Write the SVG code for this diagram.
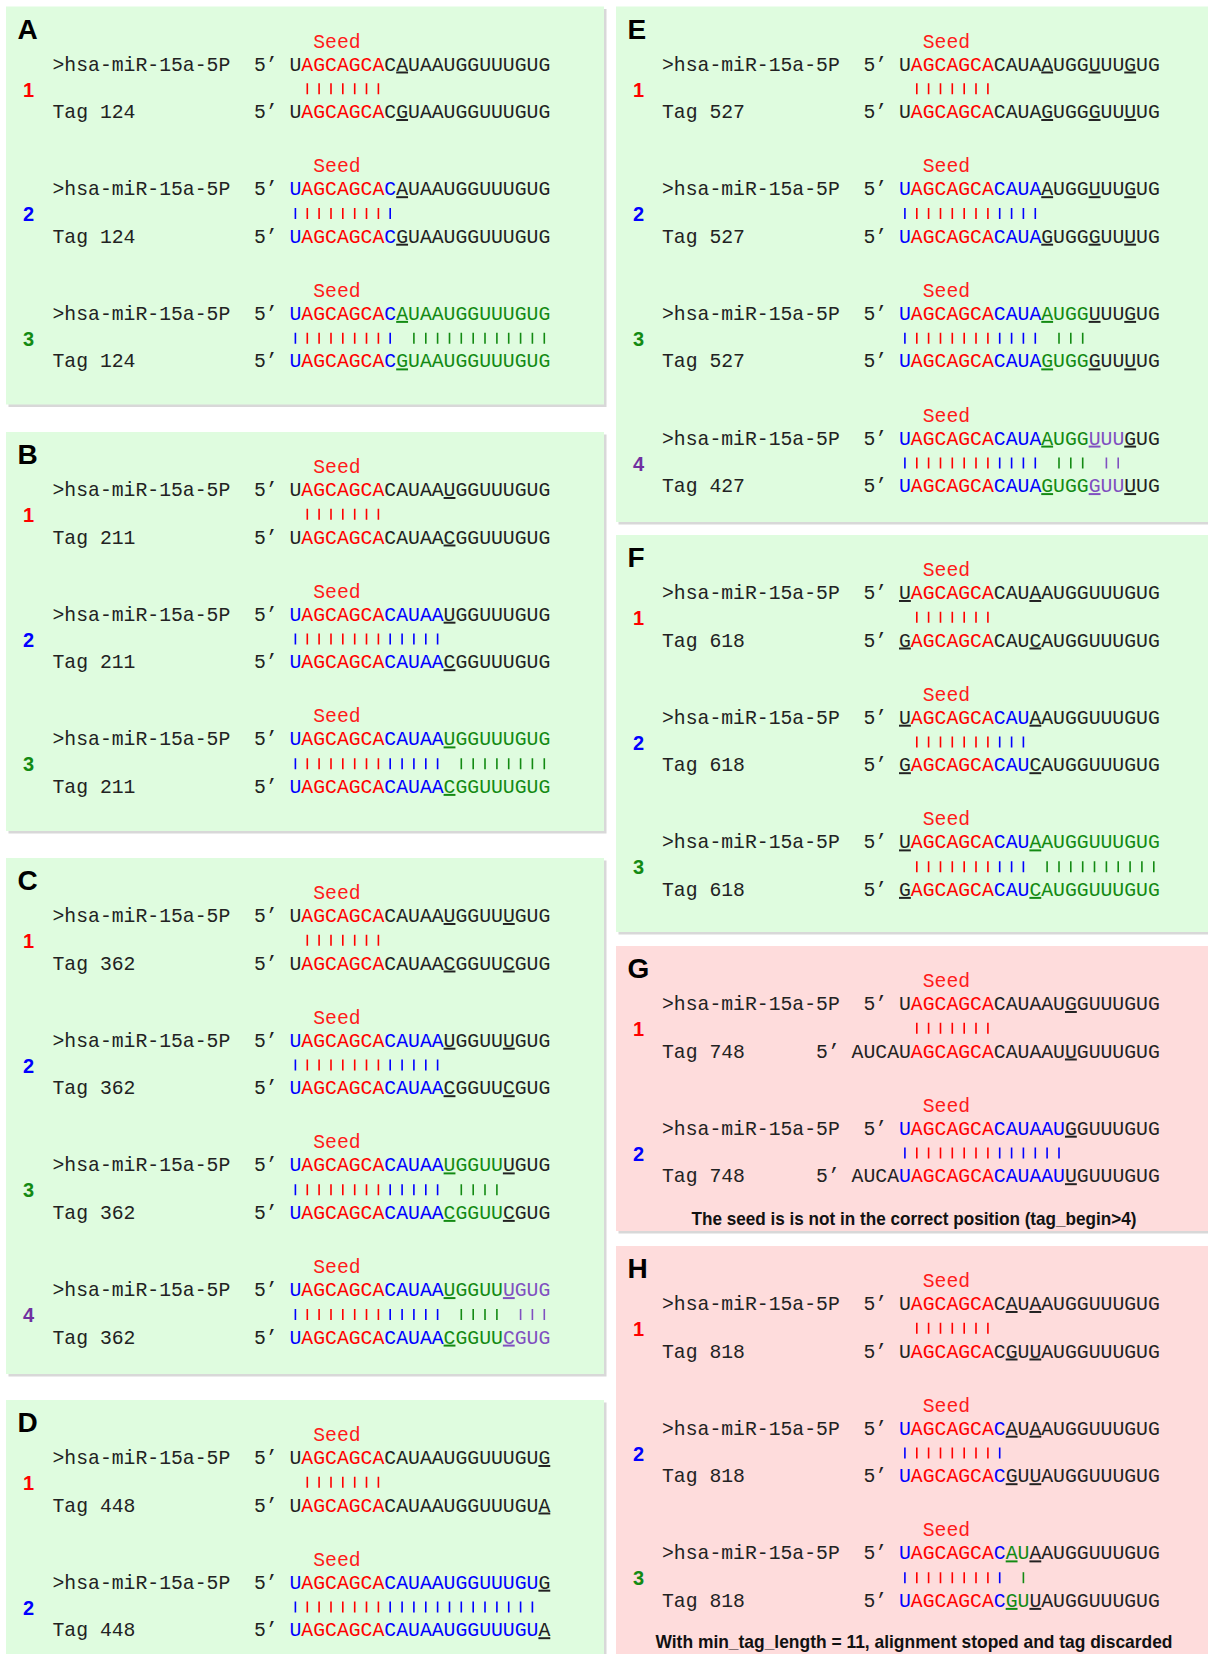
<svg xmlns="http://www.w3.org/2000/svg" xmlns:xlink="http://www.w3.org/1999/xlink" width="1208" height="1654" viewBox="0 0 1208 1654">
<style>
.pg{fill:#dffcdf}.pr{fill:#fedcdc}.sh{fill:#d8d8d8}
.m{font-family:"Liberation Mono","DejaVu Sans Mono",monospace;font-size:19.75px;fill:#222}
.L{font-family:"Liberation Sans",Arial,sans-serif;font-weight:bold;font-size:28px;fill:#000}
.n{font-family:"Liberation Sans",Arial,sans-serif;font-weight:bold;font-size:20px}
.ft{font-family:"Liberation Sans",Arial,sans-serif;font-weight:bold;font-size:18.5px;fill:#111}
.r{fill:#ff0000}.b{fill:#0000ff}.g{fill:#138a13}.p{fill:#8050c0}.p4{fill:#7030a0}
.u{text-decoration:underline}
.sd{fill:#ff1a1a}
.bars{stroke-width:1.6;fill:none}
.br{stroke:#ff0000}.bb{stroke:#0000ff}.bg{stroke:#138a13}.bp{stroke:#8050c0}
</style>
<defs>
<path id="sd" d="M17.8 12.8v11M29.6 12.8v11M41.5 12.8v11M53.3 12.8v11M65.2 12.8v11M77 12.8v11M88.9 12.8v11"/>
<path id="b08" d="M5.9 12.8v11M100.7 12.8v11"/>
<path id="b0812" d="M5.9 12.8v11M100.7 12.8v11M112.6 12.8v11M124.4 12.8v11M136.3 12.8v11M148.1 12.8v11"/>
<path id="b0811" d="M5.9 12.8v11M100.7 12.8v11M112.6 12.8v11M124.4 12.8v11M136.3 12.8v11"/>
<path id="g1417" d="M171.8 12.8v11M183.7 12.8v11M195.5 12.8v11M207.4 12.8v11"/>
<path id="g1315" d="M160 12.8v11M171.8 12.8v11M183.7 12.8v11"/>
</defs>

<g id="panel-A">
<rect class="sh" x="8.5" y="9" width="598" height="398"/>
<rect class="pg" x="6" y="6.5" width="598" height="398"/>
<text class="L" x="17.5" y="38.5">A</text>
<g id="A1" transform="translate(289.5,70.5)">
<text class="n r" x="-266.5" y="26">1</text>
<text class="m sd" x="23.7" y="-23">Seed</text>
<text class="m" x="-237" y="0">&gt;hsa-miR-15a-5P</text><text class="m" x="-35.55" y="0">5’</text>
<text class="m" x="0" y="0">U<tspan class="r">AGCAGCA</tspan>C<tspan class="u">A</tspan>UAAUGGUUUGUG</text>
<use href="#sd" class="bars br"/>
<text class="m" x="-237" y="47.5">Tag 124</text><text class="m" x="-35.55" y="47.5">5’</text>
<text class="m" x="0" y="47.5">U<tspan class="r">AGCAGCA</tspan>C<tspan class="u">G</tspan>UAAUGGUUUGUG</text>
</g>
<g id="A2" transform="translate(289.5,195.2)">
<text class="n b" x="-266.5" y="26">2</text>
<text class="m sd" x="23.7" y="-23">Seed</text>
<text class="m" x="-237" y="0">&gt;hsa-miR-15a-5P</text><text class="m" x="-35.55" y="0">5’</text>
<text class="m" x="0" y="0"><tspan class="b">U</tspan><tspan class="r">AGCAGCA</tspan><tspan class="b">C</tspan><tspan class="u">A</tspan>UAAUGGUUUGUG</text>
<use href="#sd" class="bars br"/><use href="#b08" class="bars bb"/>
<text class="m" x="-237" y="47.5">Tag 124</text><text class="m" x="-35.55" y="47.5">5’</text>
<text class="m" x="0" y="47.5"><tspan class="b">U</tspan><tspan class="r">AGCAGCA</tspan><tspan class="b">C</tspan><tspan class="u">G</tspan>UAAUGGUUUGUG</text>
</g>
<g id="A3" transform="translate(289.5,319.9)">
<text class="n g" x="-266.5" y="26">3</text>
<text class="m sd" x="23.7" y="-23">Seed</text>
<text class="m" x="-237" y="0">&gt;hsa-miR-15a-5P</text><text class="m" x="-35.55" y="0">5’</text>
<text class="m" x="0" y="0"><tspan class="b">U</tspan><tspan class="r">AGCAGCA</tspan><tspan class="b">C</tspan><tspan class="g u">A</tspan><tspan class="g">UAAUGGUUUGUG</tspan></text>
<use href="#sd" class="bars br"/><use href="#b08" class="bars bb"/>
<path class="bars bg" d="M124.4 12.8v11M136.3 12.8v11M148.1 12.8v11M160 12.8v11M171.8 12.8v11M183.7 12.8v11M195.5 12.8v11M207.4 12.8v11M219.2 12.8v11M231.1 12.8v11M242.9 12.8v11M254.8 12.8v11"/>
<text class="m" x="-237" y="47.5">Tag 124</text><text class="m" x="-35.55" y="47.5">5’</text>
<text class="m" x="0" y="47.5"><tspan class="b">U</tspan><tspan class="r">AGCAGCA</tspan><tspan class="b">C</tspan><tspan class="g u">G</tspan><tspan class="g">UAAUGGUUUGUG</tspan></text>
</g>
</g>

<g id="panel-B">
<rect class="sh" x="8.5" y="434.5" width="598" height="399"/>
<rect class="pg" x="6" y="432" width="598" height="399"/>
<text class="L" x="17.5" y="464">B</text>
<g id="B1" transform="translate(289.5,496)">
<text class="n r" x="-266.5" y="26">1</text>
<text class="m sd" x="23.7" y="-23">Seed</text>
<text class="m" x="-237" y="0">&gt;hsa-miR-15a-5P</text><text class="m" x="-35.55" y="0">5’</text>
<text class="m" x="0" y="0">U<tspan class="r">AGCAGCA</tspan>CAUAA<tspan class="u">U</tspan>GGUUUGUG</text>
<use href="#sd" class="bars br"/>
<text class="m" x="-237" y="47.5">Tag 211</text><text class="m" x="-35.55" y="47.5">5’</text>
<text class="m" x="0" y="47.5">U<tspan class="r">AGCAGCA</tspan>CAUAA<tspan class="u">C</tspan>GGUUUGUG</text>
</g>
<g id="B2" transform="translate(289.5,620.7)">
<text class="n b" x="-266.5" y="26">2</text>
<text class="m sd" x="23.7" y="-23">Seed</text>
<text class="m" x="-237" y="0">&gt;hsa-miR-15a-5P</text><text class="m" x="-35.55" y="0">5’</text>
<text class="m" x="0" y="0"><tspan class="b">U</tspan><tspan class="r">AGCAGCA</tspan><tspan class="b">CAUAA</tspan><tspan class="u">U</tspan>GGUUUGUG</text>
<use href="#sd" class="bars br"/><use href="#b0812" class="bars bb"/>
<text class="m" x="-237" y="47.5">Tag 211</text><text class="m" x="-35.55" y="47.5">5’</text>
<text class="m" x="0" y="47.5"><tspan class="b">U</tspan><tspan class="r">AGCAGCA</tspan><tspan class="b">CAUAA</tspan><tspan class="u">C</tspan>GGUUUGUG</text>
</g>
<g id="B3" transform="translate(289.5,745.4)">
<text class="n g" x="-266.5" y="26">3</text>
<text class="m sd" x="23.7" y="-23">Seed</text>
<text class="m" x="-237" y="0">&gt;hsa-miR-15a-5P</text><text class="m" x="-35.55" y="0">5’</text>
<text class="m" x="0" y="0"><tspan class="b">U</tspan><tspan class="r">AGCAGCA</tspan><tspan class="b">CAUAA</tspan><tspan class="g u">U</tspan><tspan class="g">GGUUUGUG</tspan></text>
<use href="#sd" class="bars br"/><use href="#b0812" class="bars bb"/>
<path class="bars bg" d="M171.8 12.8v11M183.7 12.8v11M195.5 12.8v11M207.4 12.8v11M219.2 12.8v11M231.1 12.8v11M242.9 12.8v11M254.8 12.8v11"/>
<text class="m" x="-237" y="47.5">Tag 211</text><text class="m" x="-35.55" y="47.5">5’</text>
<text class="m" x="0" y="47.5"><tspan class="b">U</tspan><tspan class="r">AGCAGCA</tspan><tspan class="b">CAUAA</tspan><tspan class="g u">C</tspan><tspan class="g">GGUUUGUG</tspan></text>
</g>
</g>

<g id="panel-C">
<rect class="sh" x="8.5" y="860.5" width="598" height="516"/>
<rect class="pg" x="6" y="858" width="598" height="516"/>
<text class="L" x="17.5" y="890">C</text>
<g id="C1" transform="translate(289.5,922)">
<text class="n r" x="-266.5" y="26">1</text>
<text class="m sd" x="23.7" y="-23">Seed</text>
<text class="m" x="-237" y="0">&gt;hsa-miR-15a-5P</text><text class="m" x="-35.55" y="0">5’</text>
<text class="m" x="0" y="0">U<tspan class="r">AGCAGCA</tspan>CAUAA<tspan class="u">U</tspan>GGUU<tspan class="u">U</tspan>GUG</text>
<use href="#sd" class="bars br"/>
<text class="m" x="-237" y="47.5">Tag 362</text><text class="m" x="-35.55" y="47.5">5’</text>
<text class="m" x="0" y="47.5">U<tspan class="r">AGCAGCA</tspan>CAUAA<tspan class="u">C</tspan>GGUU<tspan class="u">C</tspan>GUG</text>
</g>
<g id="C2" transform="translate(289.5,1046.7)">
<text class="n b" x="-266.5" y="26">2</text>
<text class="m sd" x="23.7" y="-23">Seed</text>
<text class="m" x="-237" y="0">&gt;hsa-miR-15a-5P</text><text class="m" x="-35.55" y="0">5’</text>
<text class="m" x="0" y="0"><tspan class="b">U</tspan><tspan class="r">AGCAGCA</tspan><tspan class="b">CAUAA</tspan><tspan class="u">U</tspan>GGUU<tspan class="u">U</tspan>GUG</text>
<use href="#sd" class="bars br"/><use href="#b0812" class="bars bb"/>
<text class="m" x="-237" y="47.5">Tag 362</text><text class="m" x="-35.55" y="47.5">5’</text>
<text class="m" x="0" y="47.5"><tspan class="b">U</tspan><tspan class="r">AGCAGCA</tspan><tspan class="b">CAUAA</tspan><tspan class="u">C</tspan>GGUU<tspan class="u">C</tspan>GUG</text>
</g>
<g id="C3" transform="translate(289.5,1171.4)">
<text class="n g" x="-266.5" y="26">3</text>
<text class="m sd" x="23.7" y="-23">Seed</text>
<text class="m" x="-237" y="0">&gt;hsa-miR-15a-5P</text><text class="m" x="-35.55" y="0">5’</text>
<text class="m" x="0" y="0"><tspan class="b">U</tspan><tspan class="r">AGCAGCA</tspan><tspan class="b">CAUAA</tspan><tspan class="g u">U</tspan><tspan class="g">GGUU</tspan><tspan class="u">U</tspan>GUG</text>
<use href="#sd" class="bars br"/><use href="#b0812" class="bars bb"/><use href="#g1417" class="bars bg"/>
<text class="m" x="-237" y="47.5">Tag 362</text><text class="m" x="-35.55" y="47.5">5’</text>
<text class="m" x="0" y="47.5"><tspan class="b">U</tspan><tspan class="r">AGCAGCA</tspan><tspan class="b">CAUAA</tspan><tspan class="g u">C</tspan><tspan class="g">GGUU</tspan><tspan class="u">C</tspan>GUG</text>
</g>
<g id="C4" transform="translate(289.5,1296.1)">
<text class="n p4" x="-266.5" y="26">4</text>
<text class="m sd" x="23.7" y="-23">Seed</text>
<text class="m" x="-237" y="0">&gt;hsa-miR-15a-5P</text><text class="m" x="-35.55" y="0">5’</text>
<text class="m" x="0" y="0"><tspan class="b">U</tspan><tspan class="r">AGCAGCA</tspan><tspan class="b">CAUAA</tspan><tspan class="g u">U</tspan><tspan class="g">GGUU</tspan><tspan class="p u">U</tspan><tspan class="p">GUG</tspan></text>
<use href="#sd" class="bars br"/><use href="#b0812" class="bars bb"/><use href="#g1417" class="bars bg"/>
<path class="bars bp" d="M231.1 12.8v11M242.9 12.8v11M254.8 12.8v11"/>
<text class="m" x="-237" y="47.5">Tag 362</text><text class="m" x="-35.55" y="47.5">5’</text>
<text class="m" x="0" y="47.5"><tspan class="b">U</tspan><tspan class="r">AGCAGCA</tspan><tspan class="b">CAUAA</tspan><tspan class="g u">C</tspan><tspan class="g">GGUU</tspan><tspan class="p u">C</tspan><tspan class="p">GUG</tspan></text>
</g>
</g>

<g id="panel-D">
<rect class="sh" x="8.5" y="1402.5" width="598" height="260"/>
<rect class="pg" x="6" y="1400" width="598" height="260"/>
<text class="L" x="17.5" y="1432">D</text>
<g id="D1" transform="translate(289.5,1464)">
<text class="n r" x="-266.5" y="26">1</text>
<text class="m sd" x="23.7" y="-23">Seed</text>
<text class="m" x="-237" y="0">&gt;hsa-miR-15a-5P</text><text class="m" x="-35.55" y="0">5’</text>
<text class="m" x="0" y="0">U<tspan class="r">AGCAGCA</tspan>CAUAAUGGUUUGU<tspan class="u">G</tspan></text>
<use href="#sd" class="bars br"/>
<text class="m" x="-237" y="47.5">Tag 448</text><text class="m" x="-35.55" y="47.5">5’</text>
<text class="m" x="0" y="47.5">U<tspan class="r">AGCAGCA</tspan>CAUAAUGGUUUGU<tspan class="u">A</tspan></text>
</g>
<g id="D2" transform="translate(289.5,1588.7)">
<text class="n b" x="-266.5" y="26">2</text>
<text class="m sd" x="23.7" y="-23">Seed</text>
<text class="m" x="-237" y="0">&gt;hsa-miR-15a-5P</text><text class="m" x="-35.55" y="0">5’</text>
<text class="m" x="0" y="0"><tspan class="b">U</tspan><tspan class="r">AGCAGCA</tspan><tspan class="b">CAUAAUGGUUUGU</tspan><tspan class="u">G</tspan></text>
<use href="#sd" class="bars br"/>
<path class="bars bb" d="M5.9 12.8v11M100.7 12.8v11M112.6 12.8v11M124.4 12.8v11M136.3 12.8v11M148.1 12.8v11M160 12.8v11M171.8 12.8v11M183.7 12.8v11M195.5 12.8v11M207.4 12.8v11M219.2 12.8v11M231.1 12.8v11M242.9 12.8v11"/>
<text class="m" x="-237" y="47.5">Tag 448</text><text class="m" x="-35.55" y="47.5">5’</text>
<text class="m" x="0" y="47.5"><tspan class="b">U</tspan><tspan class="r">AGCAGCA</tspan><tspan class="b">CAUAAUGGUUUGU</tspan><tspan class="u">A</tspan></text>
</g>
</g>

<g id="panel-E">
<rect class="sh" x="618.5" y="9" width="594" height="515.5"/>
<rect class="pg" x="616" y="6.5" width="594" height="515.5"/>
<text class="L" x="627.5" y="38.5">E</text>
<g id="E1" transform="translate(899,70.5)">
<text class="n r" x="-266" y="26">1</text>
<text class="m sd" x="23.7" y="-23">Seed</text>
<text class="m" x="-237" y="0">&gt;hsa-miR-15a-5P</text><text class="m" x="-35.55" y="0">5’</text>
<text class="m" x="0" y="0">U<tspan class="r">AGCAGCA</tspan>CAUA<tspan class="u">A</tspan>UGG<tspan class="u">U</tspan>UU<tspan class="u">G</tspan>UG</text>
<use href="#sd" class="bars br"/>
<text class="m" x="-237" y="47.5">Tag 527</text><text class="m" x="-35.55" y="47.5">5’</text>
<text class="m" x="0" y="47.5">U<tspan class="r">AGCAGCA</tspan>CAUA<tspan class="u">G</tspan>UGG<tspan class="u">G</tspan>UU<tspan class="u">U</tspan>UG</text>
</g>
<g id="E2" transform="translate(899,195.2)">
<text class="n b" x="-266" y="26">2</text>
<text class="m sd" x="23.7" y="-23">Seed</text>
<text class="m" x="-237" y="0">&gt;hsa-miR-15a-5P</text><text class="m" x="-35.55" y="0">5’</text>
<text class="m" x="0" y="0"><tspan class="b">U</tspan><tspan class="r">AGCAGCA</tspan><tspan class="b">CAUA</tspan><tspan class="u">A</tspan>UGG<tspan class="u">U</tspan>UU<tspan class="u">G</tspan>UG</text>
<use href="#sd" class="bars br"/><use href="#b0811" class="bars bb"/>
<text class="m" x="-237" y="47.5">Tag 527</text><text class="m" x="-35.55" y="47.5">5’</text>
<text class="m" x="0" y="47.5"><tspan class="b">U</tspan><tspan class="r">AGCAGCA</tspan><tspan class="b">CAUA</tspan><tspan class="u">G</tspan>UGG<tspan class="u">G</tspan>UU<tspan class="u">U</tspan>UG</text>
</g>
<g id="E3" transform="translate(899,319.9)">
<text class="n g" x="-266" y="26">3</text>
<text class="m sd" x="23.7" y="-23">Seed</text>
<text class="m" x="-237" y="0">&gt;hsa-miR-15a-5P</text><text class="m" x="-35.55" y="0">5’</text>
<text class="m" x="0" y="0"><tspan class="b">U</tspan><tspan class="r">AGCAGCA</tspan><tspan class="b">CAUA</tspan><tspan class="g u">A</tspan><tspan class="g">UGG</tspan><tspan class="u">U</tspan>UU<tspan class="u">G</tspan>UG</text>
<use href="#sd" class="bars br"/><use href="#b0811" class="bars bb"/><use href="#g1315" class="bars bg"/>
<text class="m" x="-237" y="47.5">Tag 527</text><text class="m" x="-35.55" y="47.5">5’</text>
<text class="m" x="0" y="47.5"><tspan class="b">U</tspan><tspan class="r">AGCAGCA</tspan><tspan class="b">CAUA</tspan><tspan class="g u">G</tspan><tspan class="g">UGG</tspan><tspan class="u">G</tspan>UU<tspan class="u">U</tspan>UG</text>
</g>
<g id="E4" transform="translate(899,444.6)">
<text class="n p4" x="-266" y="26">4</text>
<text class="m sd" x="23.7" y="-23">Seed</text>
<text class="m" x="-237" y="0">&gt;hsa-miR-15a-5P</text><text class="m" x="-35.55" y="0">5’</text>
<text class="m" x="0" y="0"><tspan class="b">U</tspan><tspan class="r">AGCAGCA</tspan><tspan class="b">CAUA</tspan><tspan class="g u">A</tspan><tspan class="g">UGG</tspan><tspan class="p u">U</tspan><tspan class="p">UU</tspan><tspan class="u">G</tspan>UG</text>
<use href="#sd" class="bars br"/><use href="#b0811" class="bars bb"/><use href="#g1315" class="bars bg"/>
<path class="bars bp" d="M207.4 12.8v11M219.2 12.8v11"/>
<text class="m" x="-237" y="47.5">Tag 427</text><text class="m" x="-35.55" y="47.5">5’</text>
<text class="m" x="0" y="47.5"><tspan class="b">U</tspan><tspan class="r">AGCAGCA</tspan><tspan class="b">CAUA</tspan><tspan class="g u">G</tspan><tspan class="g">UGG</tspan><tspan class="p u">G</tspan><tspan class="p">UU</tspan><tspan class="u">U</tspan>UG</text>
</g>
</g>

<g id="panel-F">
<rect class="sh" x="618.5" y="537.5" width="594" height="397"/>
<rect class="pg" x="616" y="535" width="594" height="397"/>
<text class="L" x="627.5" y="567">F</text>
<g id="F1" transform="translate(899,599)">
<text class="n r" x="-266" y="26">1</text>
<text class="m sd" x="23.7" y="-23">Seed</text>
<text class="m" x="-237" y="0">&gt;hsa-miR-15a-5P</text><text class="m" x="-35.55" y="0">5’</text>
<text class="m" x="0" y="0"><tspan class="u">U</tspan><tspan class="r">AGCAGCA</tspan>CAU<tspan class="u">A</tspan>AUGGUUUGUG</text>
<use href="#sd" class="bars br"/>
<text class="m" x="-237" y="47.5">Tag 618</text><text class="m" x="-35.55" y="47.5">5’</text>
<text class="m" x="0" y="47.5"><tspan class="u">G</tspan><tspan class="r">AGCAGCA</tspan>CAU<tspan class="u">C</tspan>AUGGUUUGUG</text>
</g>
<g id="F2" transform="translate(899,723.7)">
<text class="n b" x="-266" y="26">2</text>
<text class="m sd" x="23.7" y="-23">Seed</text>
<text class="m" x="-237" y="0">&gt;hsa-miR-15a-5P</text><text class="m" x="-35.55" y="0">5’</text>
<text class="m" x="0" y="0"><tspan class="u">U</tspan><tspan class="r">AGCAGCA</tspan><tspan class="b">CAU</tspan><tspan class="u">A</tspan>AUGGUUUGUG</text>
<use href="#sd" class="bars br"/>
<path class="bars bb" d="M100.7 12.8v11M112.6 12.8v11M124.4 12.8v11"/>
<text class="m" x="-237" y="47.5">Tag 618</text><text class="m" x="-35.55" y="47.5">5’</text>
<text class="m" x="0" y="47.5"><tspan class="u">G</tspan><tspan class="r">AGCAGCA</tspan><tspan class="b">CAU</tspan><tspan class="u">C</tspan>AUGGUUUGUG</text>
</g>
<g id="F3" transform="translate(899,848.4)">
<text class="n g" x="-266" y="26">3</text>
<text class="m sd" x="23.7" y="-23">Seed</text>
<text class="m" x="-237" y="0">&gt;hsa-miR-15a-5P</text><text class="m" x="-35.55" y="0">5’</text>
<text class="m" x="0" y="0"><tspan class="u">U</tspan><tspan class="r">AGCAGCA</tspan><tspan class="b">CAU</tspan><tspan class="g u">A</tspan><tspan class="g">AUGGUUUGUG</tspan></text>
<use href="#sd" class="bars br"/>
<path class="bars bb" d="M100.7 12.8v11M112.6 12.8v11M124.4 12.8v11"/>
<path class="bars bg" d="M148.1 12.8v11M160 12.8v11M171.8 12.8v11M183.7 12.8v11M195.5 12.8v11M207.4 12.8v11M219.2 12.8v11M231.1 12.8v11M242.9 12.8v11M254.8 12.8v11"/>
<text class="m" x="-237" y="47.5">Tag 618</text><text class="m" x="-35.55" y="47.5">5’</text>
<text class="m" x="0" y="47.5"><tspan class="u">G</tspan><tspan class="r">AGCAGCA</tspan><tspan class="b">CAU</tspan><tspan class="g u">C</tspan><tspan class="g">AUGGUUUGUG</tspan></text>
</g>
</g>

<g id="panel-G">
<rect class="sh" x="618.5" y="948.5" width="594" height="285"/>
<rect class="pr" x="616" y="946" width="594" height="285"/>
<text class="L" x="627.5" y="978">G</text>
<g id="G1" transform="translate(899,1010)">
<text class="n r" x="-266" y="26">1</text>
<text class="m sd" x="23.7" y="-23">Seed</text>
<text class="m" x="-237" y="0">&gt;hsa-miR-15a-5P</text><text class="m" x="-35.55" y="0">5’</text>
<text class="m" x="0" y="0">U<tspan class="r">AGCAGCA</tspan>CAUAAU<tspan class="u">G</tspan>GUUUGUG</text>
<use href="#sd" class="bars br"/>
<text class="m" x="-237" y="47.5">Tag 748</text><text class="m" x="-82.95" y="47.5">5’</text>
<text class="m" x="-47.4" y="47.5">AUCAU<tspan class="r">AGCAGCA</tspan>CAUAAU<tspan class="u">U</tspan>GUUUGUG</text>
</g>
<g id="G2" transform="translate(899,1134.7)">
<text class="n b" x="-266" y="26">2</text>
<text class="m sd" x="23.7" y="-23">Seed</text>
<text class="m" x="-237" y="0">&gt;hsa-miR-15a-5P</text><text class="m" x="-35.55" y="0">5’</text>
<text class="m" x="0" y="0"><tspan class="b">U</tspan><tspan class="r">AGCAGCA</tspan><tspan class="b">CAUAAU</tspan><tspan class="u">G</tspan>GUUUGUG</text>
<use href="#sd" class="bars br"/>
<path class="bars bb" d="M5.9 12.8v11M100.7 12.8v11M112.6 12.8v11M124.4 12.8v11M136.3 12.8v11M148.1 12.8v11M160 12.8v11"/>
<text class="m" x="-237" y="47.5">Tag 748</text><text class="m" x="-82.95" y="47.5">5’</text>
<text class="m" x="-47.4" y="47.5">AUCA<tspan class="b">U</tspan><tspan class="r">AGCAGCA</tspan><tspan class="b">CAUAAU</tspan><tspan class="u">U</tspan>GUUUGUG</text>
</g>
<text class="ft" x="914" y="1225" text-anchor="middle" textLength="445" lengthAdjust="spacingAndGlyphs">The seed is is not in the correct position (tag_begin&gt;4)</text>
</g>

<g id="panel-H">
<rect class="sh" x="618.5" y="1248.5" width="594" height="420"/>
<rect class="pr" x="616" y="1246" width="594" height="420"/>
<text class="L" x="627.5" y="1278">H</text>
<g id="H1" transform="translate(899,1310)">
<text class="n r" x="-266" y="26">1</text>
<text class="m sd" x="23.7" y="-23">Seed</text>
<text class="m" x="-237" y="0">&gt;hsa-miR-15a-5P</text><text class="m" x="-35.55" y="0">5’</text>
<text class="m" x="0" y="0">U<tspan class="r">AGCAGCA</tspan>C<tspan class="u">A</tspan>U<tspan class="u">A</tspan>AUGGUUUGUG</text>
<use href="#sd" class="bars br"/>
<text class="m" x="-237" y="47.5">Tag 818</text><text class="m" x="-35.55" y="47.5">5’</text>
<text class="m" x="0" y="47.5">U<tspan class="r">AGCAGCA</tspan>C<tspan class="u">G</tspan>U<tspan class="u">U</tspan>AUGGUUUGUG</text>
</g>
<g id="H2" transform="translate(899,1434.7)">
<text class="n b" x="-266" y="26">2</text>
<text class="m sd" x="23.7" y="-23">Seed</text>
<text class="m" x="-237" y="0">&gt;hsa-miR-15a-5P</text><text class="m" x="-35.55" y="0">5’</text>
<text class="m" x="0" y="0"><tspan class="b">U</tspan><tspan class="r">AGCAGCA</tspan><tspan class="b">C</tspan><tspan class="u">A</tspan>U<tspan class="u">A</tspan>AUGGUUUGUG</text>
<use href="#sd" class="bars br"/><use href="#b08" class="bars bb"/>
<text class="m" x="-237" y="47.5">Tag 818</text><text class="m" x="-35.55" y="47.5">5’</text>
<text class="m" x="0" y="47.5"><tspan class="b">U</tspan><tspan class="r">AGCAGCA</tspan><tspan class="b">C</tspan><tspan class="u">G</tspan>U<tspan class="u">U</tspan>AUGGUUUGUG</text>
</g>
<g id="H3" transform="translate(899,1559.4)">
<text class="n g" x="-266" y="26">3</text>
<text class="m sd" x="23.7" y="-23">Seed</text>
<text class="m" x="-237" y="0">&gt;hsa-miR-15a-5P</text><text class="m" x="-35.55" y="0">5’</text>
<text class="m" x="0" y="0"><tspan class="b">U</tspan><tspan class="r">AGCAGCA</tspan><tspan class="b">C</tspan><tspan class="g u">A</tspan><tspan class="g">U</tspan><tspan class="u">A</tspan>AUGGUUUGUG</text>
<use href="#sd" class="bars br"/><use href="#b08" class="bars bb"/>
<path class="bars bg" d="M124.4 12.8v11"/>
<text class="m" x="-237" y="47.5">Tag 818</text><text class="m" x="-35.55" y="47.5">5’</text>
<text class="m" x="0" y="47.5"><tspan class="b">U</tspan><tspan class="r">AGCAGCA</tspan><tspan class="b">C</tspan><tspan class="g u">G</tspan><tspan class="g">U</tspan><tspan class="u">U</tspan>AUGGUUUGUG</text>
</g>
<text class="ft" x="914" y="1648" text-anchor="middle" textLength="517" lengthAdjust="spacingAndGlyphs">With min_tag_length = 11, alignment stoped and tag discarded</text>
</g>
</svg>
